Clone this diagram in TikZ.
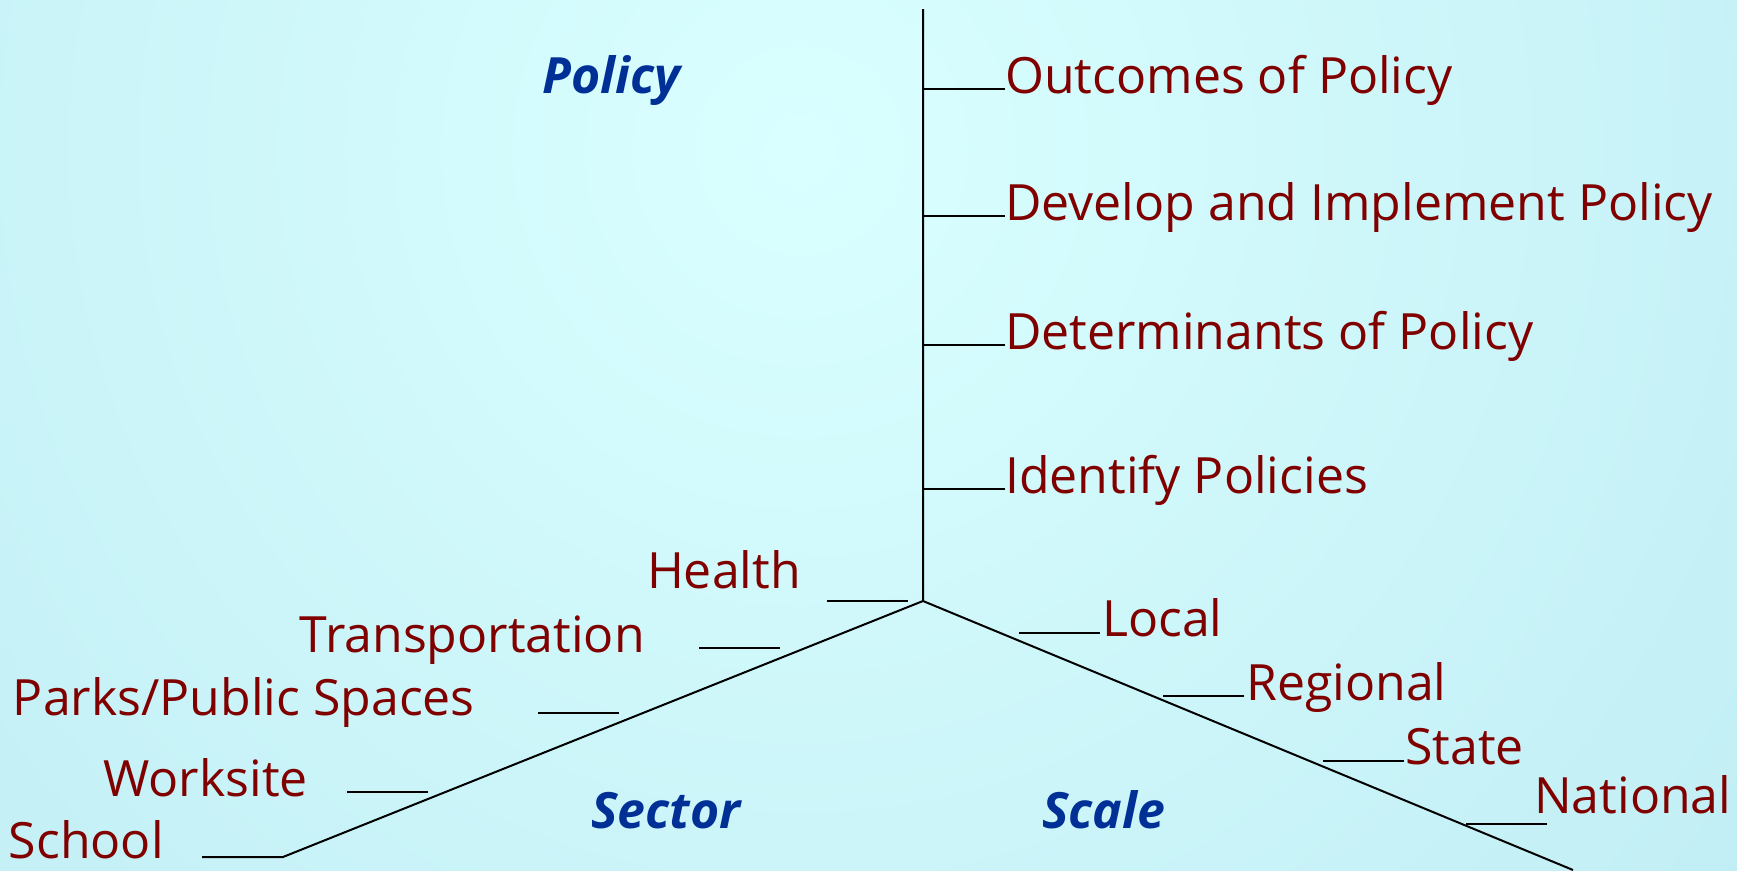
\documentclass[tikz,border=0pt]{standalone}
\usepackage{fontspec}
\setmainfont{Open Sans}
\usetikzlibrary{positioning}
\definecolor{bgin}{RGB}{218,255,255}
\definecolor{bgout}{RGB}{170,222,235}
\definecolor{lblred}{RGB}{128,0,0}
\definecolor{lblblue}{RGB}{0,48,150}
\tikzset{
  lbl/.style={inner sep=0pt, text=lblred, font=\fontsize{50}{60}\selectfont},
  dim/.style={inner sep=0pt, text=lblblue, font=\fontsize{50}{60}\selectfont\bfseries\itshape},
  axis/.style={draw=black, line width=2pt},
  tick/.style={draw=black, line width=2pt}
}

\begin{document}
\begin{tikzpicture}[x=1pt,y=-1pt]
  \useasboundingbox (0,0) rectangle (1737,870);
  \begin{scope}
    \clip (0,0) rectangle (1737,870);
    \shade[inner color=bgin, outer color=bgout] (800,150) circle (2300);
  \end{scope}

  % the three axes
  \coordinate (O) at (923,601);
  \coordinate (Top) at (923,9);
  \coordinate (SW) at (283,857);
  \coordinate (SE) at (1573,870);
  \draw[axis] (Top) -- (O) -- (SW) -- ++(-81,0);
  \draw[axis] (O) -- (SE);

  % axis names
  \node[dim, anchor=base west] (Policy) at (542,93) {Policy};
  \node[dim, anchor=base west] (Sector) at (591,828) {Sector};
  \node[dim, anchor=base west] (Scale) at (1042,828) {Scale};

  % policy steps
  \node[lbl, anchor=base west] (Outcomes) at (1005,93) {Outcomes of Policy};
  \node[lbl, anchor=base west] (Develop) at (1005,220) {Develop and Implement Policy};
  \node[lbl, anchor=base west] (Determinants) at (1005,349) {Determinants of Policy};
  \node[lbl, anchor=base west] (Identify) at (1005,493) {Identify Policies};
  \coordinate (p1) at (923,89);
  \coordinate (p2) at (923,216);
  \coordinate (p3) at (923,345);
  \coordinate (p4) at (923,489);
  \draw[tick] (p1) -- (p1 -| Outcomes.west);
  \draw[tick] (p2) -- (p2 -| Develop.west);
  \draw[tick] (p3) -- (p3 -| Determinants.west);
  \draw[tick] (p4) -- (p4 -| Identify.west);

  % sectors
  \node[lbl, anchor=base east] (Health) at (801,588) {Health};
  \node[lbl, anchor=base east] (Transport) at (645,652) {Transportation};
  \node[lbl, anchor=base east] (Parks) at (475,715) {Parks/Public Spaces};
  \node[lbl, anchor=base east] (Worksite) at (308,796) {Worksite};
  \node[lbl, anchor=base east] (School) at (164,858) {School};
  \coordinate (s1) at (827,601);
  \coordinate (s2) at (699,648);
  \coordinate (s3) at (538,713);
  \coordinate (s4) at (347,792);
  \draw[tick] (s1) -- ++(81,0);
  \draw[tick] (s2) -- ++(81,0);
  \draw[tick] (s3) -- ++(81,0);
  \draw[tick] (s4) -- ++(81,0);

  % scales
  \node[lbl, anchor=base west] (Local) at (1102,636) {Local};
  \node[lbl, anchor=base west] (Regional) at (1246,700) {Regional};
  \node[lbl, anchor=base west] (State) at (1405,764) {State};
  \node[lbl, anchor=base west] (National) at (1534,813) {National};
  \coordinate (c1) at (1019,633);
  \coordinate (c2) at (1163,696);
  \coordinate (c3) at (1323,761);
  \coordinate (c4) at (1466,824);
  \draw[tick] (c1) -- ++(81,0);
  \draw[tick] (c2) -- ++(81,0);
  \draw[tick] (c3) -- ++(81,0);
  \draw[tick] (c4) -- ++(81,0);
\end{tikzpicture}
\end{document}
